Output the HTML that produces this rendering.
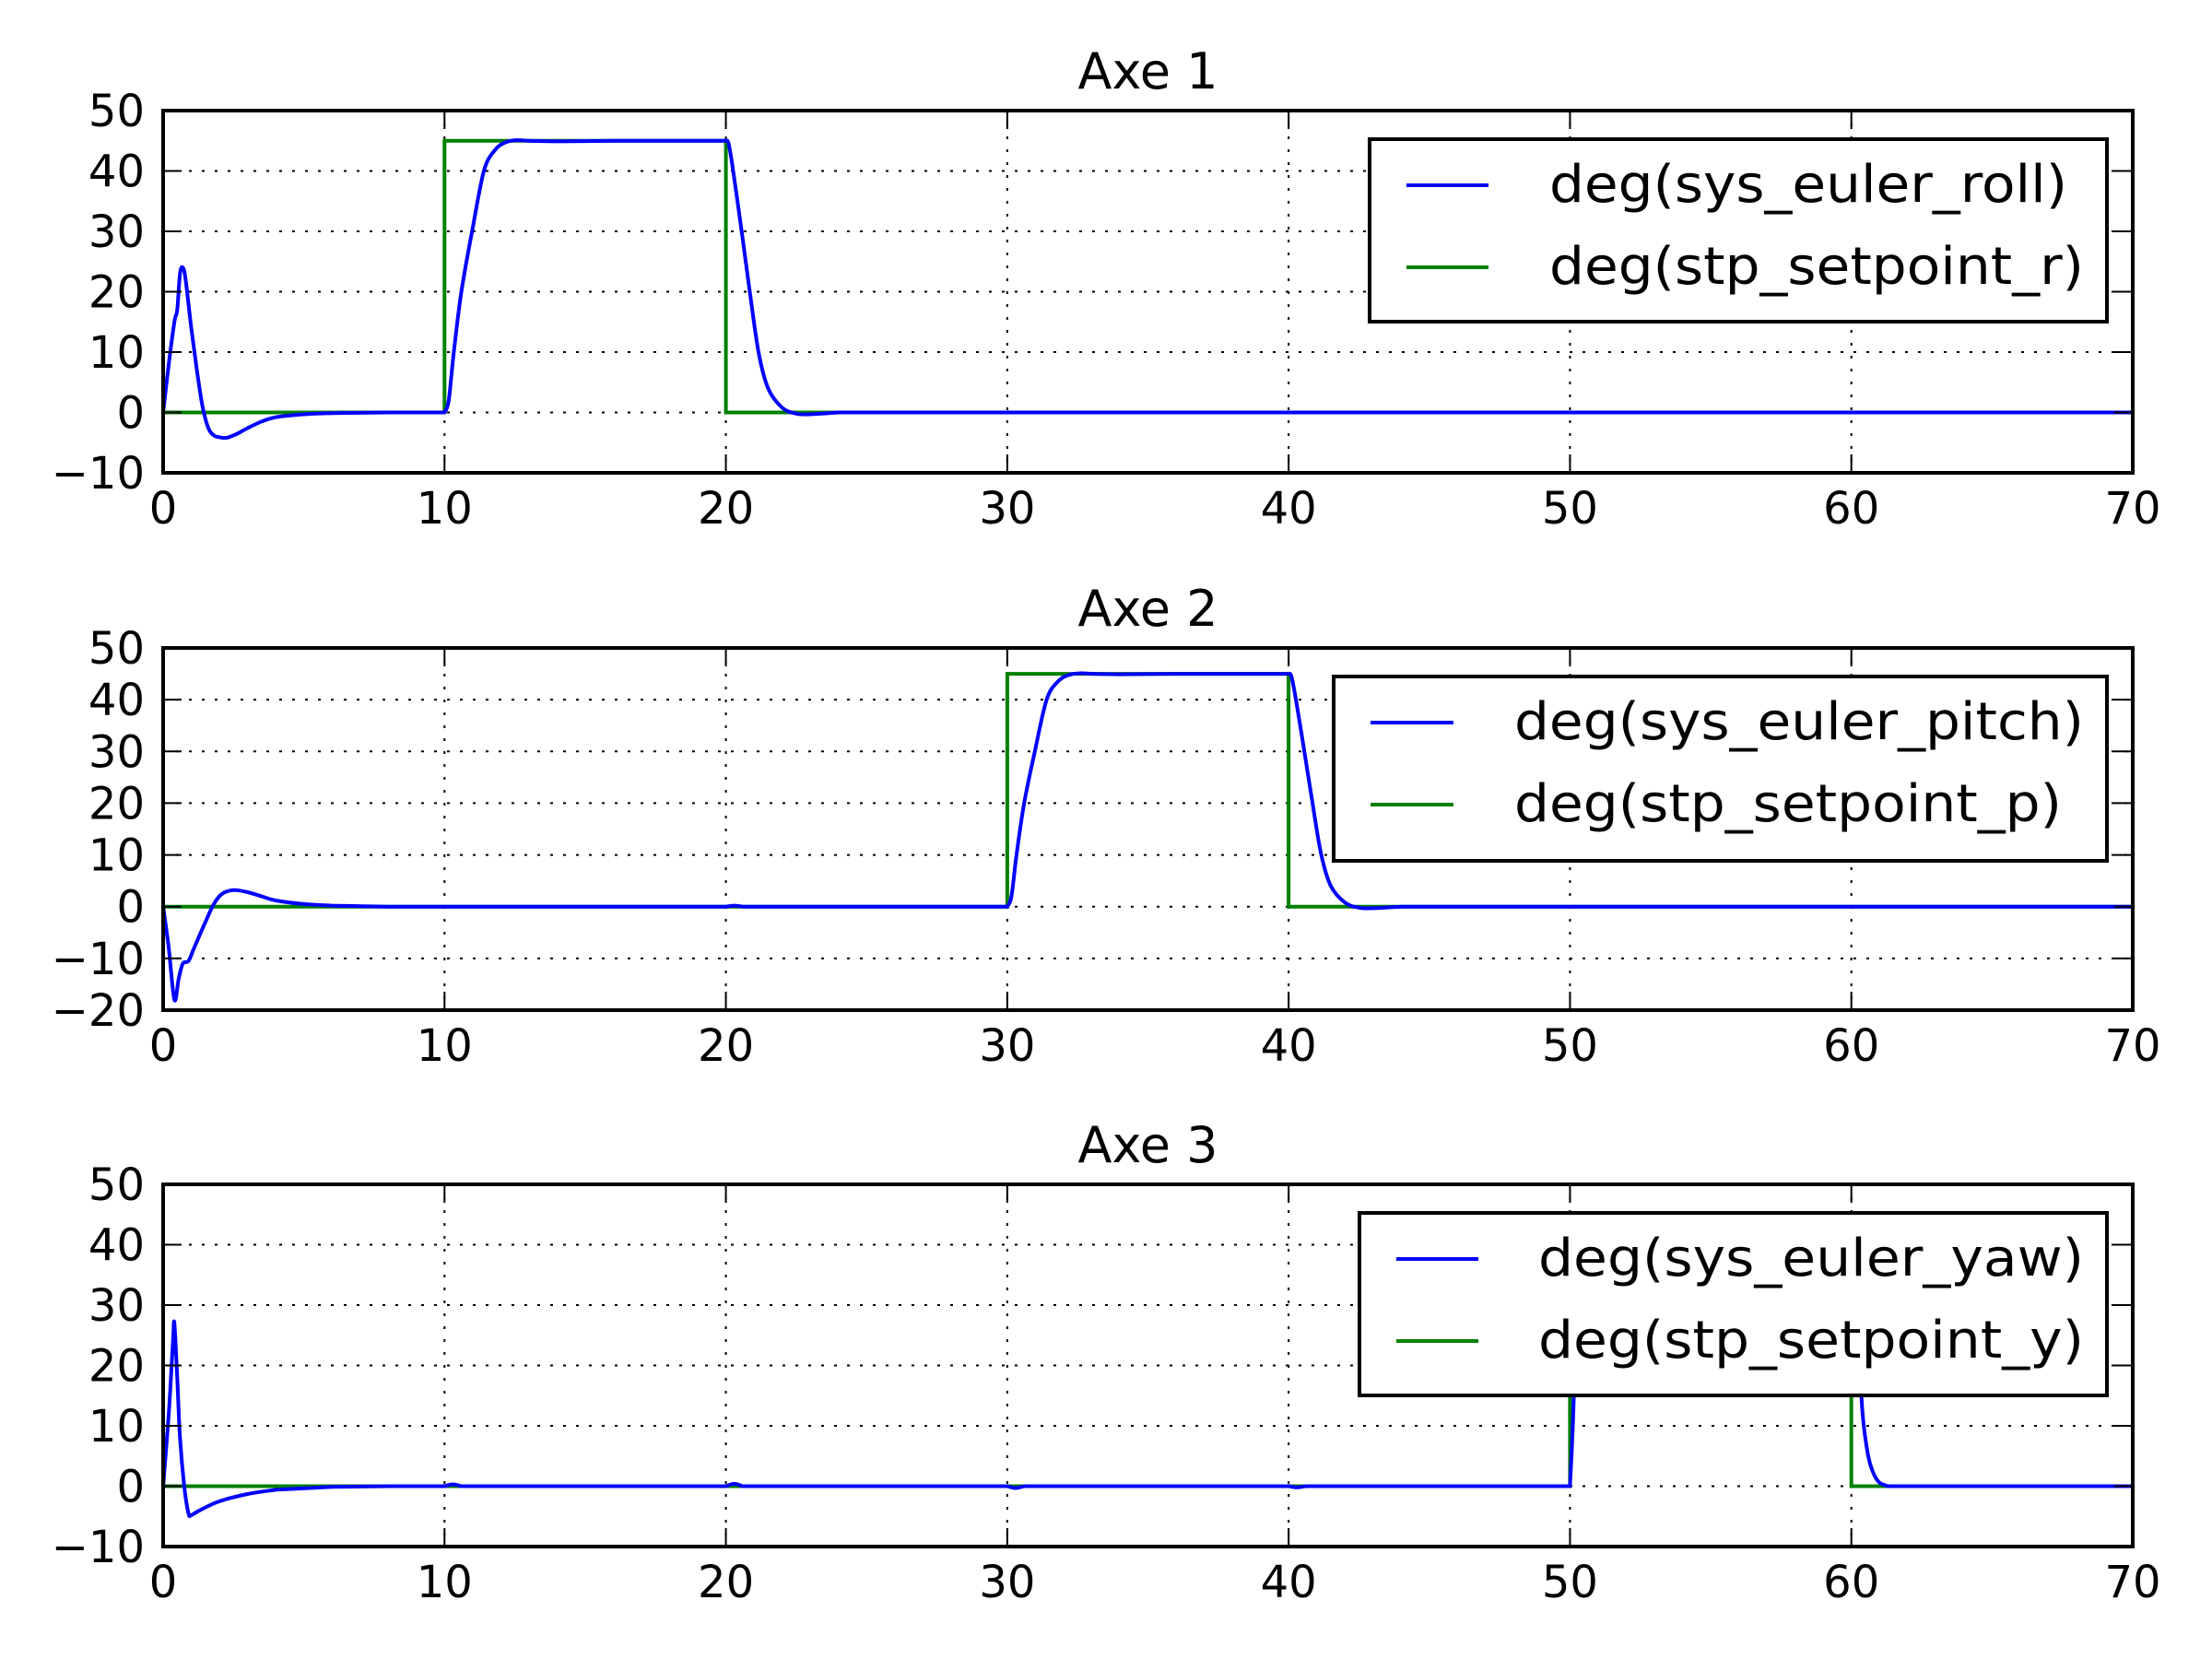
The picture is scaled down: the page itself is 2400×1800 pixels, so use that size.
<!DOCTYPE html>
<html><head><meta charset="utf-8"><style>
html,body{margin:0;padding:0;background:#fff;}
svg{display:block;font-family:"DejaVu Sans","Liberation Sans",sans-serif;}
</style></head><body>
<svg id="chart" width="2400" height="1800" viewBox="0 0 2400 1800" xmlns="http://www.w3.org/2000/svg"></svg>
<script>
// ---- data ----
const xTicks = [0,10,20,30,40,50,60,70];
const panelTitles = ["Axe 1","Axe 2","Axe 3"];
const yTicks1 = [-10,0,10,20,30,40,50];
const yTicks2 = [-20,-10,0,10,20,30,40,50];
const yTicks3 = [-10,0,10,20,30,40,50];
const legend1 = ["deg(sys_euler_roll)","deg(stp_setpoint_r)"];
const legend2 = ["deg(sys_euler_pitch)","deg(stp_setpoint_p)"];
const legend3 = ["deg(sys_euler_yaw)","deg(stp_setpoint_y)"];

const roll_t = [0,0.2,0.4,0.5,0.6,0.7,0.8,1.0,1.2,1.4,1.6,1.8,2.0,2.25,2.6,3,3.5,4,5,6,8,10,10.15,10.33,10.6,10.98,11.4,11.8,12.2,12.6,13,14,16,18,20,20.1,20.26,20.56,20.85,21.16,21.5,22,22.5,23,24,70];
const roll_v = [0,8,15,17,23,24,22,14,7,1,-2.5,-3.8,-4.1,-4.2,-3.6,-2.6,-1.5,-0.8,-0.3,-0.1,0,0,2,10,20,30,40,43.5,44.8,45.1,45,44.9,45,45,45,44.5,40,30,20,10,4,0.8,-0.2,-0.3,0,0];
const sp_r_t = [0,10,10,20,20,70];
const sp_r_v = [0,0,45,45,0,0];

const pitch_t = [0,0.2,0.4,0.55,0.7,0.9,1.1,1.5,1.8,2.1,2.5,3,3.5,4,5,6,8,20,20.3,20.6,30,30.15,30.33,30.6,30.98,31.4,31.8,32.2,32.6,33,34,36,38,40,40.1,40.26,40.56,40.85,41.16,41.5,42,42.5,43,44,70];
const pitch_v = [0,-8,-18,-14,-11,-10.5,-8,-3,0.5,2.5,3.2,2.8,2,1.2,0.5,0.2,0,0,0.2,0,0,2,10,20,30,40,43.5,44.8,45.1,45,44.9,45,45,45,44.5,40,30,20,10,4,0.8,-0.2,-0.3,0,0];
const sp_p_t = [0,30,30,40,40,70];
const sp_p_v = [0,0,45,45,0,0];

const yaw_t = [0,0.2,0.35,0.4,0.5,0.6,0.75,0.9,1.0,1.3,2,3,4,6,8,10,10.3,10.6,20,20.3,20.6,30,30.3,30.6,40,40.3,40.6,50,50.1,50.3,50.6,51,52,60,60.1,60.25,60.4,60.6,60.8,61,61.3,70];
const yaw_v = [0,12,24,27,18,8,0,-4.5,-4.8,-4,-2.5,-1.3,-0.6,-0.1,0,0,0.3,0,0,0.4,0,0,-0.3,0,0,-0.2,0,0,10,35,44,45,45,45,40,25,12,5,2,0.6,0,0];
const sp_y_t = [0,50,50,60,60,70];
const sp_y_v = [0,0,45,45,0,0];

// ---- layout ----
const NS = "http://www.w3.org/2000/svg";
const svg = document.getElementById('chart');
const X0 = 177, X1 = 2314;
const panels = [
  {top:120, bottom:513, ymin:-10, ymax:50, yt:yTicks1, title:panelTitles[0], blue:[roll_t,roll_v], green:[sp_r_t,sp_r_v], leg:legend1, box:[1494,151,2294,349], lineX:[1534,1623], textX:1689, tl:[562,580]},
  {top:703, bottom:1096, ymin:-20, ymax:50, yt:yTicks2, title:panelTitles[1], blue:[pitch_t,pitch_v], green:[sp_p_t,sp_p_v], leg:legend2, box:[1455,734,2294,934], lineX:[1495,1585], textX:1651, tl:[618,594]},
  {top:1285, bottom:1678, ymin:-10, ymax:50, yt:yTicks3, title:panelTitles[2], blue:[yaw_t,yaw_v], green:[sp_y_t,sp_y_v], leg:legend3, box:[1483,1316,2294,1514], lineX:[1523,1612], textX:1677, tl:[592,592]}
];
const LEG_SHIFT = -8;
function mk(tag, attrs, parent){
  const e = document.createElementNS(NS, tag);
  for (const k in attrs) e.setAttribute(k, attrs[k]);
  (parent||svg).appendChild(e);
  return e;
}
const fmt = v => v < 0 ? "\u2212" + Math.abs(v) : String(v);

panels.forEach((p, i) => {
  const g = mk('g', {});
  
  
  const xs = t => X0 + (t - 0) / 70 * (X1 - X0);
  const ys = v => p.bottom - (v - p.ymin) / (p.ymax - p.ymin) * (p.bottom - p.top);

  xTicks.forEach(t => {
    if (t === 0 || t === 70) return;
    const l = mk('line', {x1:xs(t), x2:xs(t), y1:p.top, y2:p.bottom, stroke:'#000', 'stroke-width':2, 'stroke-dasharray':'3,11'}, g);
    
    
  });
  p.yt.forEach(v => {
    if (v === p.ymin || v === p.ymax) return;
    const l = mk('line', {x1:X0, x2:X1, y1:ys(v), y2:ys(v), stroke:'#000', 'stroke-width':2, 'stroke-dasharray':'3,11'}, g);
    
    
  });

  const linePath = (arr) => arr[0].map((t, k) => (k ? 'L' : 'M') + xs(t).toFixed(1) + ',' + ys(arr[1][k]).toFixed(1)).join(' ');
  const LONG = 45;
  const smoothPath = (arr) => {
    const P = arr[0].map((t, k) => [xs(t), ys(arr[1][k])]);
    const n = P.length;
    const isLong = k => k < 0 || k >= n-1 || (P[k+1][0] - P[k][0]) > LONG;
    let d = 'M' + P[0][0].toFixed(1) + ',' + P[0][1].toFixed(1);
    for (let k = 0; k < n - 1; k++) {
      const p1 = P[k], p2 = P[k+1];
      if (isLong(k)) { d += ' L' + p2[0].toFixed(1) + ',' + p2[1].toFixed(1); continue; }
      const p0 = isLong(k-1) ? p1 : P[k-1];
      const p3 = isLong(k+1) ? p2 : P[k+2];
      let c1x = p1[0] + (p2[0]-p0[0])/6, c1y = p1[1] + (p2[1]-p0[1])/6;
      let c2x = p2[0] - (p3[0]-p1[0])/6, c2y = p2[1] - (p3[1]-p1[1])/6;
      c1x = Math.min(Math.max(c1x, p1[0]), p2[0]);
      c2x = Math.min(Math.max(c2x, p1[0]), p2[0]);
      d += ' C' + c1x.toFixed(1) + ',' + c1y.toFixed(1) + ' ' + c2x.toFixed(1) + ',' + c2y.toFixed(1) + ' ' + p2[0].toFixed(1) + ',' + p2[1].toFixed(1);
    }
    return d;
  };
  const clipId = 'clip' + i;
  const cp = mk('clipPath', {id:clipId}, g);
  mk('rect', {x:X0, y:p.top, width:X1-X0, height:p.bottom-p.top}, cp);
  const gl = mk('path', {d:linePath(p.green), fill:'none', stroke:'#008000', 'stroke-width':4, 'clip-path':'url(#'+clipId+')'}, g);
  
  
  const bl = mk('path', {d:smoothPath(p.blue), fill:'none', stroke:'#0000ff', 'stroke-width':4, 'stroke-linejoin':'round', 'clip-path':'url(#'+clipId+')'}, g);
  
  

  xTicks.forEach(t => {
    mk('line', {x1:xs(t), x2:xs(t), y1:p.bottom, y2:p.bottom-20, stroke:'#000', 'stroke-width':2}, g);
    mk('line', {x1:xs(t), x2:xs(t), y1:p.top, y2:p.top+20, stroke:'#000', 'stroke-width':2}, g);
    const tx = mk('text', {x:xs(t), y:p.bottom+55, 'font-size':48, 'text-anchor':'middle'}, g);
    tx.textContent = fmt(t);
    
    
  });
  p.yt.forEach(v => {
    mk('line', {x1:X0, x2:X0+20, y1:ys(v), y2:ys(v), stroke:'#000', 'stroke-width':2}, g);
    mk('line', {x1:X1, x2:X1-20, y1:ys(v), y2:ys(v), stroke:'#000', 'stroke-width':2}, g);
    const tx = mk('text', {x:X0-20, y:ys(v)+17, 'font-size':48, 'text-anchor':'end'}, g);
    tx.textContent = fmt(v);
    
    
  });

  const fr = mk('rect', {x:X0, y:p.top, width:X1-X0, height:p.bottom-p.top, fill:'none', stroke:'#000', 'stroke-width':4}, g);
  
  

  const tt = mk('text', {x:(X0+X1)/2, y:p.top-24, 'font-size':54, 'text-anchor':'middle'}, g);
  tt.textContent = p.title;
  
  

  const lg = mk('g', {transform:'translate(' + LEG_SHIFT + ',0)'}, g);
  
  
  const b = p.box;
  mk('rect', {x:b[0], y:b[1], width:b[2]-b[0], height:b[3]-b[1], fill:'#fff', stroke:'#000', 'stroke-width':4}, lg);
  const colors = ['#0000ff','#008000'];
  p.leg.forEach((lab, k) => {
    const base = b[1] + 68 + k*89;
    const ln = mk('line', {x1:p.lineX[0], x2:p.lineX[1], y1:base-18, y2:base-18, stroke:colors[k], 'stroke-width':4}, lg);
    
    
    const tx = mk('text', {x:p.textX, y:base, 'font-size':56, textLength:p.tl[k], lengthAdjust:'spacingAndGlyphs'}, lg);
    tx.textContent = lab;
    
    
  });
});
</script>
</body></html>
